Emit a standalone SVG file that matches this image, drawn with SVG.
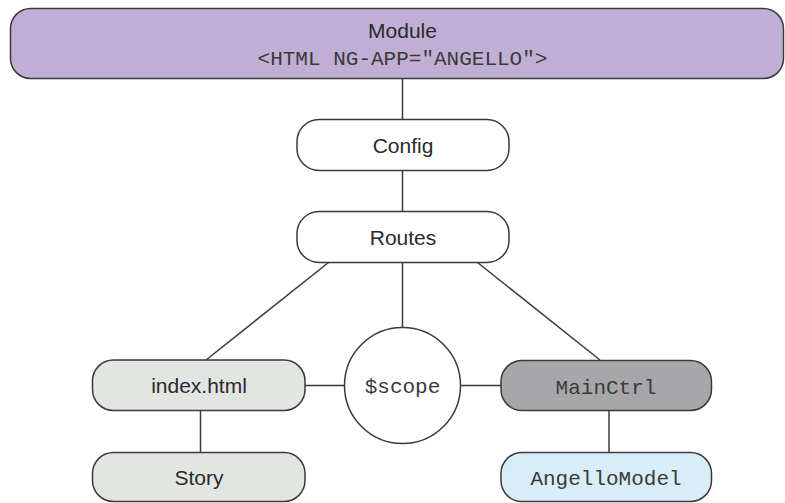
<svg xmlns="http://www.w3.org/2000/svg" width="785" height="503" viewBox="0 0 785 503">
<style>
.box{stroke:#3a3a3a;stroke-width:1.5}
.ln{stroke:#3a3a3a;stroke-width:1.5;fill:none}
.sans{font-family:"Liberation Sans",Arial,sans-serif;font-size:21px;fill:#2a2a2a;text-anchor:middle}
.mono{font-family:"Liberation Mono","Courier New",monospace;font-size:21px;fill:#3a3a3a;text-anchor:middle}
</style>
<rect width="785" height="503" fill="#ffffff"/>
<g id="connectors">
<line class="ln" x1="402.5" y1="79" x2="402.5" y2="120"/>
<line class="ln" x1="402.5" y1="171" x2="402.5" y2="212"/>
<line class="ln" x1="402.5" y1="263" x2="402.5" y2="327"/>
<line class="ln" x1="328.5" y1="262.5" x2="206" y2="360"/>
<line class="ln" x1="477.5" y1="262.5" x2="600" y2="360"/>
<line class="ln" x1="305" y1="385.5" x2="344.5" y2="385.5"/>
<line class="ln" x1="460.5" y1="385.5" x2="501" y2="385.5"/>
<line class="ln" x1="200.5" y1="411" x2="200.5" y2="453"/>
<line class="ln" x1="609" y1="411" x2="609" y2="453"/>
</g>
<g id="module">
<rect class="box" x="10.5" y="8.5" width="773" height="70" rx="20" fill="#c0afd4"/>
<text class="sans" x="402.5" y="37.5">Module</text>
<text class="mono" x="402.5" y="65">&lt;HTML NG-APP="ANGELLO"&gt;</text>
</g>
<g id="config">
<rect class="box" x="297" y="119.5" width="212" height="51" rx="22" fill="#ffffff"/>
<text class="sans" x="403" y="153">Config</text>
</g>
<g id="routes">
<rect class="box" x="297" y="211.5" width="212" height="51" rx="22" fill="#ffffff"/>
<text class="sans" x="403" y="245">Routes</text>
</g>
<g id="scope">
<circle class="box" cx="402.5" cy="385.5" r="58" fill="#ffffff"/>
<text class="mono" x="402.5" y="393">$scope</text>
</g>
<g id="index">
<rect class="box" x="92.5" y="360" width="212.5" height="50.5" rx="21" fill="#e2e5e2"/>
<text class="sans" x="199" y="393">index.html</text>
</g>
<g id="story">
<rect class="box" x="92.5" y="452.5" width="212.5" height="49" rx="21" fill="#e2e5e2"/>
<text class="sans" x="199" y="485">Story</text>
</g>
<g id="mainctrl">
<rect class="box" x="501" y="360.5" width="210.5" height="50" rx="21" fill="#a7a7aa"/>
<text class="mono" x="606" y="393.5">MainCtrl</text>
</g>
<g id="angellomodel">
<rect class="box" x="501" y="452.5" width="210.5" height="49" rx="21" fill="#d9edf9"/>
<text class="mono" x="606" y="485">AngelloModel</text>
</g>
</svg>
